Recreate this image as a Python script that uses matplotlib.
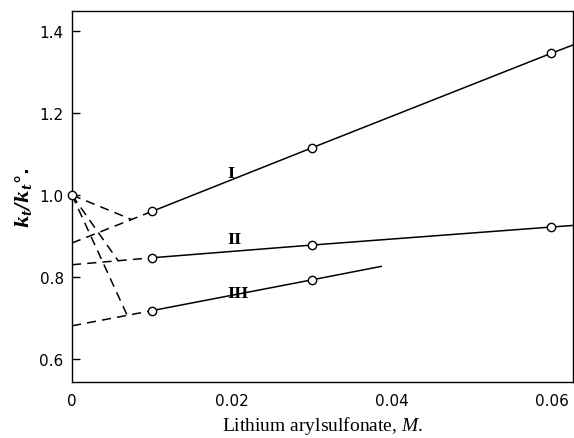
import matplotlib.pyplot as plt

# values
conc = [0.01, 0.03, 0.06]
ratio_I = [0.960, 1.115, 1.346]
ratio_II = [0.847, 0.878, 0.922]
conc_III = [0.01, 0.03]
ratio_III = [0.718, 0.793]

# where the solid lines stop
end_I = (0.0635, 1.372)
end_II = (0.0635, 0.927)
end_III = (0.0387, 0.826)

# dashed extrapolation to zero salt
intercepts = [0.883, 0.830, 0.681]
vertices = [(0.0075, 0.940), (0.0058, 0.839), (0.0069, 0.707)]
origin = (0.0, 1.0)

plt.rcParams["mathtext.fontset"] = "custom"
plt.rcParams["mathtext.it"] = "Liberation Serif:italic"
plt.rcParams["mathtext.rm"] = "Liberation Serif"
plt.rcParams["mathtext.bf"] = "DejaVu Serif:italic:bold"

fig = plt.figure(figsize=(5.74, 4.39), dpi=100)
ax = fig.add_axes([0.1254, 0.1276, 0.8729, 0.8451])

lw = 1.1
ms = 6
series = [
    (conc, ratio_I, end_I),
    (conc, ratio_II, end_II),
    (conc_III, ratio_III, end_III),
]
for (xs, ys, end), b, v in zip(series, intercepts, vertices):
    ax.plot(list(xs) + [end[0]], list(ys) + [end[1]], color="black", lw=lw)
    ax.plot(xs, ys, "o", ms=ms, mfc="white", mec="black", mew=1.0, zorder=3)
    ax.plot([0, xs[0]], [b, ys[0]], color="black", lw=lw, dashes=(6, 4))
    ax.plot([origin[0], v[0]], [origin[1], v[1]], color="black", lw=lw, dashes=(6, 4))

ax.plot(*origin, "o", ms=ms, mfc="white", mec="black", mew=1.0, zorder=4, clip_on=False)

# curve labels
ax.text(0.0199, 1.055, "I", fontsize=11, family="DejaVu Serif", fontweight="bold", ha="center", va="center")
ax.text(0.0203, 0.893, "II", fontsize=11, family="DejaVu Serif", fontweight="bold", ha="center", va="center")
ax.text(0.0208, 0.762, "III", fontsize=11, family="DejaVu Serif", fontweight="bold", ha="center", va="center")

ax.set_xlim(0, 0.0627)
ax.set_ylim(0.544, 1.449)
ax.set_xticks([0, 0.02, 0.04, 0.06])
ax.set_xticklabels(["0", "0.02", "0.04", "0.06"])
ax.set_yticks([0.6, 0.8, 1.0, 1.2, 1.4])
ax.set_yticklabels(["0.6", "0.8", "1.0", "1.2", "1.4"])
ax.tick_params(axis="y", direction="in", length=6, width=1, labelsize=11, pad=6)
ax.tick_params(axis="x", length=0, labelsize=11, pad=8)

for s in ax.spines.values():
    s.set_linewidth(1.0)

ax.set_xlabel("Lithium arylsulfonate, $M$.", family="Liberation Serif", fontsize=14, labelpad=4)
ax.set_ylabel("$\\mathbf{k_t/k_t}$°.", fontsize=13, fontweight="bold", labelpad=4)

plt.savefig("out.png", dpi=100)
